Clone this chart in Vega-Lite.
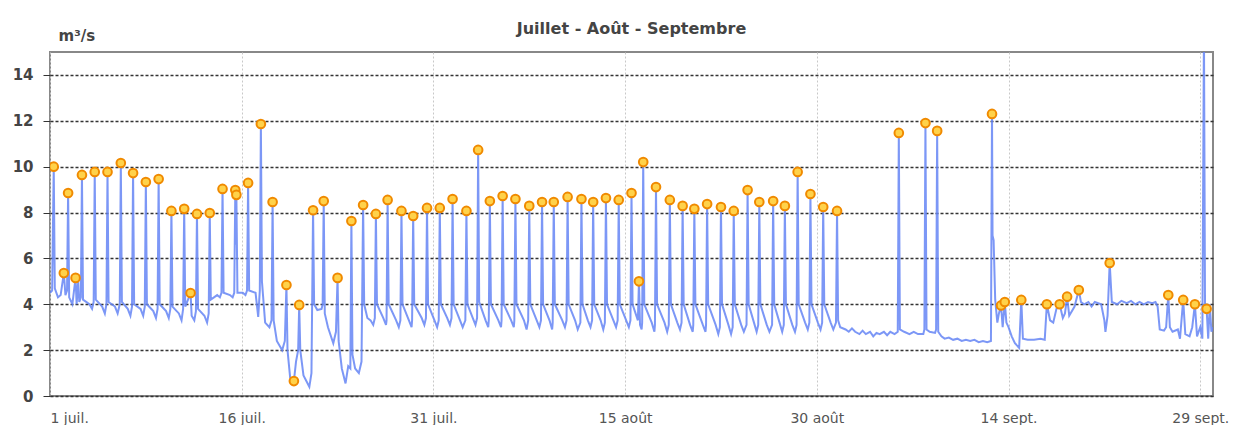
{
"$schema": "https://vega.github.io/schema/vega-lite/v6.json",
"width": 1163, "height": 344,
"autosize": {"type": "none"},
"padding": {"left": 50, "top": 52, "right": 26, "bottom": 29},
"background": "white",
"title": {"text": "Juillet - Août - Septembre", "font": "DejaVu Sans", "fontSize": 16, "fontWeight": "bold", "color": "#444", "anchor": "middle", "offset": -9},
"config": {"view": {"stroke": "#888", "strokeWidth": 2}, "font": "DejaVu Sans"},
"data": {"values": [
{"t":"2023-07-01T00:00","q":4.5},{"t":"2023-07-01T04:00","q":4.6},{"t":"2023-07-01T07:00","q":10.0,"m":1},{"t":"2023-07-01T09:00","q":4.7},{"t":"2023-07-01T15:00","q":4.3},{"t":"2023-07-01T20:00","q":4.4},
{"t":"2023-07-02T02:00","q":5.36,"m":1},{"t":"2023-07-02T05:00","q":4.4},{"t":"2023-07-02T08:00","q":4.6},{"t":"2023-07-02T10:00","q":8.85,"m":1},{"t":"2023-07-02T12:00","q":4.3},{"t":"2023-07-02T18:00","q":4.0},
{"t":"2023-07-03T00:00","q":5.15,"m":1},{"t":"2023-07-03T02:00","q":4.0},{"t":"2023-07-03T05:00","q":5.0},{"t":"2023-07-03T07:00","q":4.1},{"t":"2023-07-03T10:00","q":4.3},{"t":"2023-07-03T12:00","q":9.64,"m":1},{"t":"2023-07-03T14:00","q":4.2},
{"t":"2023-07-04T02:00","q":4.0},{"t":"2023-07-04T07:00","q":3.8},{"t":"2023-07-04T10:00","q":4.1},{"t":"2023-07-04T12:00","q":9.77,"m":1},{"t":"2023-07-04T14:00","q":4.2},
{"t":"2023-07-05T02:00","q":3.9},{"t":"2023-07-05T07:00","q":3.6},{"t":"2023-07-05T10:00","q":4.0},{"t":"2023-07-05T12:00","q":9.77,"m":1},{"t":"2023-07-05T14:00","q":4.1},
{"t":"2023-07-06T02:00","q":3.9},{"t":"2023-07-06T07:00","q":3.6},{"t":"2023-07-06T11:00","q":4.0},{"t":"2023-07-06T13:00","q":10.16,"m":1},{"t":"2023-07-06T15:00","q":4.1},
{"t":"2023-07-07T02:00","q":3.8},{"t":"2023-07-07T07:00","q":3.5},{"t":"2023-07-07T10:00","q":3.9},{"t":"2023-07-07T12:00","q":9.72,"m":1},{"t":"2023-07-07T14:00","q":4.0},
{"t":"2023-07-08T02:00","q":3.8},{"t":"2023-07-08T07:00","q":3.5},{"t":"2023-07-08T10:00","q":3.9},{"t":"2023-07-08T12:00","q":9.33,"m":1},{"t":"2023-07-08T14:00","q":4.0},
{"t":"2023-07-09T02:00","q":3.7},{"t":"2023-07-09T07:00","q":3.4},{"t":"2023-07-09T10:00","q":3.8},{"t":"2023-07-09T12:00","q":9.46,"m":1},{"t":"2023-07-09T14:00","q":4.0},
{"t":"2023-07-10T02:00","q":3.7},{"t":"2023-07-10T07:00","q":3.4},{"t":"2023-07-10T10:00","q":3.8},{"t":"2023-07-10T12:00","q":8.07,"m":1},{"t":"2023-07-10T14:00","q":3.9},
{"t":"2023-07-11T02:00","q":3.6},{"t":"2023-07-11T07:00","q":3.3},{"t":"2023-07-11T10:00","q":3.8},{"t":"2023-07-11T12:00","q":8.16,"m":1},{"t":"2023-07-11T14:00","q":3.9},
{"t":"2023-07-12T00:00","q":4.49,"m":1},{"t":"2023-07-12T02:00","q":3.5},{"t":"2023-07-12T07:00","q":3.3},{"t":"2023-07-12T10:00","q":3.7},{"t":"2023-07-12T12:00","q":7.94,"m":1},{"t":"2023-07-12T14:00","q":3.8},
{"t":"2023-07-13T02:00","q":3.5},{"t":"2023-07-13T07:00","q":3.2},{"t":"2023-07-13T10:00","q":3.6},{"t":"2023-07-13T12:00","q":7.98,"m":1},{"t":"2023-07-13T14:00","q":4.2},
{"t":"2023-07-14T02:00","q":4.4},{"t":"2023-07-14T07:00","q":4.3},{"t":"2023-07-14T10:00","q":4.5},{"t":"2023-07-14T12:00","q":9.03,"m":1},{"t":"2023-07-14T14:00","q":4.5},
{"t":"2023-07-15T02:00","q":4.4},{"t":"2023-07-15T07:00","q":4.3},{"t":"2023-07-15T10:00","q":4.5},{"t":"2023-07-15T12:00","q":8.98,"m":1},{"t":"2023-07-15T13:00","q":6.6},{"t":"2023-07-15T14:00","q":8.77,"m":1},{"t":"2023-07-15T16:00","q":4.5},
{"t":"2023-07-16T02:00","q":4.5},{"t":"2023-07-16T07:00","q":4.4},{"t":"2023-07-16T10:00","q":4.6},{"t":"2023-07-16T12:00","q":9.29,"m":1},{"t":"2023-07-16T14:00","q":4.6},
{"t":"2023-07-17T02:00","q":4.5},{"t":"2023-07-17T07:00","q":3.45},{"t":"2023-07-17T10:00","q":4.6},{"t":"2023-07-17T12:00","q":11.86,"m":1},{"t":"2023-07-17T14:00","q":5.0},{"t":"2023-07-17T20:00","q":3.2},
{"t":"2023-07-18T04:00","q":3.0},{"t":"2023-07-18T08:00","q":3.3},{"t":"2023-07-18T10:00","q":8.46,"m":1},{"t":"2023-07-18T12:00","q":3.3},{"t":"2023-07-18T18:00","q":2.4},
{"t":"2023-07-19T04:00","q":2.0},{"t":"2023-07-19T09:00","q":2.4},{"t":"2023-07-19T12:00","q":4.84,"m":1},{"t":"2023-07-19T14:00","q":2.0},{"t":"2023-07-19T19:00","q":0.8},
{"t":"2023-07-20T02:00","q":0.65,"m":1},{"t":"2023-07-20T06:00","q":1.5},{"t":"2023-07-20T10:00","q":2.0},{"t":"2023-07-20T12:00","q":3.97,"m":1},{"t":"2023-07-20T14:00","q":2.0},{"t":"2023-07-20T20:00","q":0.9},
{"t":"2023-07-21T07:00","q":0.4},{"t":"2023-07-21T11:00","q":1.0},{"t":"2023-07-21T14:00","q":8.1,"m":1},{"t":"2023-07-21T16:00","q":4.0},{"t":"2023-07-21T22:00","q":3.75},
{"t":"2023-07-22T06:00","q":3.8},{"t":"2023-07-22T08:00","q":4.0},{"t":"2023-07-22T10:00","q":8.5,"m":1},{"t":"2023-07-22T12:00","q":3.6},{"t":"2023-07-22T18:00","q":3.0},
{"t":"2023-07-23T04:00","q":2.3},{"t":"2023-07-23T09:00","q":2.8},{"t":"2023-07-23T12:00","q":5.15,"m":1},{"t":"2023-07-23T14:00","q":2.4},{"t":"2023-07-23T20:00","q":1.2},
{"t":"2023-07-24T03:00","q":0.55},{"t":"2023-07-24T08:00","q":1.3},{"t":"2023-07-24T12:00","q":1.2},{"t":"2023-07-24T14:00","q":7.63,"m":1},{"t":"2023-07-24T16:00","q":1.8},{"t":"2023-07-24T21:00","q":1.2},
{"t":"2023-07-25T04:00","q":1.0},{"t":"2023-07-25T09:00","q":1.5},{"t":"2023-07-25T12:00","q":8.33,"m":1},{"t":"2023-07-25T14:00","q":4.0},{"t":"2023-07-25T20:00","q":3.4},
{"t":"2023-07-26T02:00","q":3.3},{"t":"2023-07-26T07:00","q":3.1},{"t":"2023-07-26T10:00","q":3.4},{"t":"2023-07-26T12:00","q":7.94,"m":1},{"t":"2023-07-26T14:00","q":4.0},
{"t":"2023-07-27T02:00","q":3.4},{"t":"2023-07-27T07:00","q":3.1},{"t":"2023-07-27T08:00","q":3.3},{"t":"2023-07-27T10:00","q":8.55,"m":1},{"t":"2023-07-27T12:00","q":4.0},
{"t":"2023-07-28T02:00","q":3.3},{"t":"2023-07-28T07:00","q":3.0},{"t":"2023-07-28T10:00","q":3.3},{"t":"2023-07-28T12:00","q":8.07,"m":1},{"t":"2023-07-28T14:00","q":4.0},
{"t":"2023-07-29T02:00","q":3.3},{"t":"2023-07-29T07:00","q":3.0},{"t":"2023-07-29T08:00","q":3.3},{"t":"2023-07-29T10:00","q":7.85,"m":1},{"t":"2023-07-29T12:00","q":4.0},
{"t":"2023-07-30T02:00","q":3.4},{"t":"2023-07-30T07:00","q":3.1},{"t":"2023-07-30T10:00","q":3.4},{"t":"2023-07-30T12:00","q":8.2,"m":1},{"t":"2023-07-30T14:00","q":4.0},
{"t":"2023-07-31T02:00","q":3.3},{"t":"2023-07-31T07:00","q":3.0},{"t":"2023-07-31T10:00","q":3.3},{"t":"2023-07-31T12:00","q":8.2,"m":1},{"t":"2023-07-31T14:00","q":4.0},
{"t":"2023-08-01T02:00","q":3.4},{"t":"2023-08-01T07:00","q":3.1},{"t":"2023-08-01T10:00","q":3.4},{"t":"2023-08-01T12:00","q":8.59,"m":1},{"t":"2023-08-01T14:00","q":4.0},
{"t":"2023-08-02T02:00","q":3.3},{"t":"2023-08-02T07:00","q":3.0},{"t":"2023-08-02T12:00","q":3.3},{"t":"2023-08-02T14:00","q":8.07,"m":1},{"t":"2023-08-02T16:00","q":4.0},
{"t":"2023-08-03T02:00","q":3.4},{"t":"2023-08-03T07:00","q":3.1},{"t":"2023-08-03T10:00","q":3.4},{"t":"2023-08-03T12:00","q":10.73,"m":1},{"t":"2023-08-03T14:00","q":4.1},
{"t":"2023-08-04T02:00","q":3.3},{"t":"2023-08-04T07:00","q":3.0},{"t":"2023-08-04T08:00","q":3.3},{"t":"2023-08-04T10:00","q":8.5,"m":1},{"t":"2023-08-04T12:00","q":4.0},
{"t":"2023-08-05T02:00","q":3.3},{"t":"2023-08-05T07:00","q":3.0},{"t":"2023-08-05T08:00","q":3.3},{"t":"2023-08-05T10:00","q":8.72,"m":1},{"t":"2023-08-05T12:00","q":4.0},
{"t":"2023-08-06T02:00","q":3.3},{"t":"2023-08-06T07:00","q":3.0},{"t":"2023-08-06T08:00","q":3.3},{"t":"2023-08-06T10:00","q":8.59,"m":1},{"t":"2023-08-06T12:00","q":4.0},
{"t":"2023-08-07T02:00","q":3.3},{"t":"2023-08-07T07:00","q":2.9},{"t":"2023-08-07T10:00","q":3.3},{"t":"2023-08-07T12:00","q":8.29,"m":1},{"t":"2023-08-07T14:00","q":4.0},
{"t":"2023-08-08T02:00","q":3.3},{"t":"2023-08-08T07:00","q":3.0},{"t":"2023-08-08T10:00","q":3.3},{"t":"2023-08-08T12:00","q":8.46,"m":1},{"t":"2023-08-08T14:00","q":4.0},
{"t":"2023-08-09T02:00","q":3.3},{"t":"2023-08-09T07:00","q":2.9},{"t":"2023-08-09T08:00","q":3.2},{"t":"2023-08-09T10:00","q":8.46,"m":1},{"t":"2023-08-09T12:00","q":4.0},
{"t":"2023-08-10T02:00","q":3.3},{"t":"2023-08-10T07:00","q":3.0},{"t":"2023-08-10T10:00","q":3.3},{"t":"2023-08-10T12:00","q":8.68,"m":1},{"t":"2023-08-10T14:00","q":4.0},
{"t":"2023-08-11T02:00","q":3.3},{"t":"2023-08-11T07:00","q":2.9},{"t":"2023-08-11T12:00","q":3.2},{"t":"2023-08-11T14:00","q":8.59,"m":1},{"t":"2023-08-11T16:00","q":4.0},
{"t":"2023-08-12T02:00","q":3.3},{"t":"2023-08-12T07:00","q":3.0},{"t":"2023-08-12T10:00","q":3.3},{"t":"2023-08-12T12:00","q":8.46,"m":1},{"t":"2023-08-12T14:00","q":4.0},
{"t":"2023-08-13T02:00","q":3.3},{"t":"2023-08-13T07:00","q":2.9},{"t":"2023-08-13T10:00","q":3.2},{"t":"2023-08-13T12:00","q":8.63,"m":1},{"t":"2023-08-13T14:00","q":4.0},
{"t":"2023-08-14T02:00","q":3.3},{"t":"2023-08-14T07:00","q":3.0},{"t":"2023-08-14T10:00","q":3.3},{"t":"2023-08-14T12:00","q":8.55,"m":1},{"t":"2023-08-14T14:00","q":4.0},
{"t":"2023-08-15T02:00","q":3.3},{"t":"2023-08-15T07:00","q":3.0},{"t":"2023-08-15T10:00","q":3.3},{"t":"2023-08-15T12:00","q":8.85,"m":1},{"t":"2023-08-15T14:00","q":4.0},
{"t":"2023-08-16T00:00","q":3.3},{"t":"2023-08-16T02:00","q":5.0,"m":1},{"t":"2023-08-16T04:00","q":3.1},{"t":"2023-08-16T07:00","q":2.9},{"t":"2023-08-16T08:00","q":3.2},{"t":"2023-08-16T10:00","q":10.2,"m":1},{"t":"2023-08-16T12:00","q":4.0},
{"t":"2023-08-17T02:00","q":3.2},{"t":"2023-08-17T07:00","q":2.8},{"t":"2023-08-17T08:00","q":3.1},{"t":"2023-08-17T10:00","q":9.11,"m":1},{"t":"2023-08-17T12:00","q":4.0},
{"t":"2023-08-18T02:00","q":3.2},{"t":"2023-08-18T07:00","q":2.8},{"t":"2023-08-18T10:00","q":3.1},{"t":"2023-08-18T12:00","q":8.55,"m":1},{"t":"2023-08-18T14:00","q":4.0},
{"t":"2023-08-19T02:00","q":3.2},{"t":"2023-08-19T07:00","q":2.9},{"t":"2023-08-19T10:00","q":3.2},{"t":"2023-08-19T12:00","q":8.29,"m":1},{"t":"2023-08-19T14:00","q":4.0},
{"t":"2023-08-20T02:00","q":3.1},{"t":"2023-08-20T07:00","q":2.8},{"t":"2023-08-20T08:00","q":3.1},{"t":"2023-08-20T10:00","q":8.16,"m":1},{"t":"2023-08-20T12:00","q":4.0},
{"t":"2023-08-21T02:00","q":3.1},{"t":"2023-08-21T07:00","q":2.8},{"t":"2023-08-21T08:00","q":3.1},{"t":"2023-08-21T10:00","q":8.37,"m":1},{"t":"2023-08-21T12:00","q":4.0},
{"t":"2023-08-22T02:00","q":3.1},{"t":"2023-08-22T07:00","q":2.7},{"t":"2023-08-22T10:00","q":3.0},{"t":"2023-08-22T12:00","q":8.24,"m":1},{"t":"2023-08-22T14:00","q":4.0},
{"t":"2023-08-23T02:00","q":3.1},{"t":"2023-08-23T07:00","q":2.7},{"t":"2023-08-23T10:00","q":3.0},{"t":"2023-08-23T12:00","q":8.07,"m":1},{"t":"2023-08-23T14:00","q":4.0},
{"t":"2023-08-24T02:00","q":3.1},{"t":"2023-08-24T07:00","q":2.8},{"t":"2023-08-24T12:00","q":3.1},{"t":"2023-08-24T14:00","q":8.98,"m":1},{"t":"2023-08-24T16:00","q":4.0},
{"t":"2023-08-25T02:00","q":3.2},{"t":"2023-08-25T07:00","q":2.8},{"t":"2023-08-25T10:00","q":3.1},{"t":"2023-08-25T12:00","q":8.46,"m":1},{"t":"2023-08-25T14:00","q":4.0},
{"t":"2023-08-26T02:00","q":3.1},{"t":"2023-08-26T07:00","q":2.8},{"t":"2023-08-26T12:00","q":3.1},{"t":"2023-08-26T14:00","q":8.5,"m":1},{"t":"2023-08-26T16:00","q":4.0},
{"t":"2023-08-27T02:00","q":3.2},{"t":"2023-08-27T07:00","q":2.8},{"t":"2023-08-27T10:00","q":3.1},{"t":"2023-08-27T12:00","q":8.29,"m":1},{"t":"2023-08-27T14:00","q":4.0},
{"t":"2023-08-28T02:00","q":3.1},{"t":"2023-08-28T07:00","q":2.8},{"t":"2023-08-28T10:00","q":3.1},{"t":"2023-08-28T12:00","q":9.77,"m":1},{"t":"2023-08-28T14:00","q":4.0},
{"t":"2023-08-29T02:00","q":3.2},{"t":"2023-08-29T07:00","q":2.9},{"t":"2023-08-29T10:00","q":3.2},{"t":"2023-08-29T12:00","q":8.81,"m":1},{"t":"2023-08-29T14:00","q":4.0},
{"t":"2023-08-30T02:00","q":3.2},{"t":"2023-08-30T07:00","q":2.9},{"t":"2023-08-30T10:00","q":3.2},{"t":"2023-08-30T12:00","q":8.24,"m":1},{"t":"2023-08-30T14:00","q":4.0},
{"t":"2023-08-31T02:00","q":3.2},{"t":"2023-08-31T07:00","q":2.9},{"t":"2023-08-31T12:00","q":3.2},{"t":"2023-08-31T14:00","q":8.07,"m":1},{"t":"2023-08-31T16:00","q":3.3},{"t":"2023-08-31T20:00","q":3.0},
{"t":"2023-09-01T06:00","q":2.9},{"t":"2023-09-01T12:00","q":2.8},{"t":"2023-09-01T18:00","q":2.95},
{"t":"2023-09-02T00:00","q":2.8},{"t":"2023-09-02T08:00","q":2.7},{"t":"2023-09-02T14:00","q":2.85},{"t":"2023-09-02T20:00","q":2.7},
{"t":"2023-09-03T04:00","q":2.8},{"t":"2023-09-03T10:00","q":2.6},{"t":"2023-09-03T16:00","q":2.75},{"t":"2023-09-03T22:00","q":2.7},
{"t":"2023-09-04T06:00","q":2.8},{"t":"2023-09-04T12:00","q":2.65},{"t":"2023-09-04T18:00","q":2.8},
{"t":"2023-09-05T02:00","q":2.7},{"t":"2023-09-05T08:00","q":2.8},{"t":"2023-09-05T10:00","q":11.47,"m":1},{"t":"2023-09-05T12:00","q":2.9},{"t":"2023-09-05T20:00","q":2.8},
{"t":"2023-09-06T06:00","q":2.7},{"t":"2023-09-06T14:00","q":2.8},{"t":"2023-09-06T22:00","q":2.7},
{"t":"2023-09-07T08:00","q":2.7},{"t":"2023-09-07T10:00","q":2.9},{"t":"2023-09-07T12:00","q":11.9,"m":1},{"t":"2023-09-07T14:00","q":2.9},{"t":"2023-09-07T20:00","q":2.8},
{"t":"2023-09-08T06:00","q":2.75},{"t":"2023-09-08T08:00","q":2.9},{"t":"2023-09-08T10:00","q":11.56,"m":1},{"t":"2023-09-08T12:00","q":2.8},{"t":"2023-09-08T18:00","q":2.6},
{"t":"2023-09-09T00:00","q":2.5},{"t":"2023-09-09T08:00","q":2.55},{"t":"2023-09-09T16:00","q":2.45},
{"t":"2023-09-10T00:00","q":2.5},{"t":"2023-09-10T08:00","q":2.4},{"t":"2023-09-10T16:00","q":2.45},
{"t":"2023-09-11T00:00","q":2.4},{"t":"2023-09-11T08:00","q":2.45},{"t":"2023-09-11T16:00","q":2.35},
{"t":"2023-09-12T00:00","q":2.4},{"t":"2023-09-12T08:00","q":2.35},{"t":"2023-09-12T15:00","q":2.4},{"t":"2023-09-12T17:00","q":12.3,"m":1},{"t":"2023-09-12T18:00","q":7.0},{"t":"2023-09-12T20:00","q":6.8},{"t":"2023-09-12T23:00","q":4.2},
{"t":"2023-09-13T03:00","q":3.2},{"t":"2023-09-13T06:00","q":3.6},{"t":"2023-09-13T10:00","q":3.95,"m":1},{"t":"2023-09-13T13:00","q":3.0},{"t":"2023-09-13T17:00","q":4.1,"m":1},{"t":"2023-09-13T20:00","q":3.2},
{"t":"2023-09-14T00:00","q":3.0},{"t":"2023-09-14T06:00","q":2.6},{"t":"2023-09-14T12:00","q":2.3},{"t":"2023-09-14T20:00","q":2.1},
{"t":"2023-09-15T00:00","q":4.19,"m":1},{"t":"2023-09-15T03:00","q":2.5},{"t":"2023-09-15T12:00","q":2.45},
{"t":"2023-09-16T00:00","q":2.45},{"t":"2023-09-16T12:00","q":2.5},{"t":"2023-09-16T20:00","q":2.45},
{"t":"2023-09-17T00:00","q":4.0,"m":1},{"t":"2023-09-17T06:00","q":3.3},{"t":"2023-09-17T12:00","q":3.2},{"t":"2023-09-17T18:00","q":3.8},
{"t":"2023-09-18T00:00","q":4.0,"m":1},{"t":"2023-09-18T06:00","q":3.4},{"t":"2023-09-18T10:00","q":3.6},{"t":"2023-09-18T14:00","q":4.33,"m":1},{"t":"2023-09-18T18:00","q":3.5},
{"t":"2023-09-19T04:00","q":3.9},{"t":"2023-09-19T12:00","q":4.62,"m":1},{"t":"2023-09-19T16:00","q":4.1},{"t":"2023-09-19T22:00","q":4.0},
{"t":"2023-09-20T06:00","q":4.1},{"t":"2023-09-20T12:00","q":3.9},{"t":"2023-09-20T18:00","q":4.1},
{"t":"2023-09-21T06:00","q":4.0},{"t":"2023-09-21T12:00","q":3.3},{"t":"2023-09-21T14:00","q":2.8},{"t":"2023-09-21T18:00","q":3.5},{"t":"2023-09-21T22:00","q":5.8,"m":1},
{"t":"2023-09-22T02:00","q":4.1},{"t":"2023-09-22T12:00","q":4.0},{"t":"2023-09-22T20:00","q":4.15},
{"t":"2023-09-23T06:00","q":4.05},{"t":"2023-09-23T14:00","q":4.15},{"t":"2023-09-23T22:00","q":4.0},
{"t":"2023-09-24T06:00","q":4.1},{"t":"2023-09-24T14:00","q":4.0},{"t":"2023-09-24T22:00","q":4.1},
{"t":"2023-09-25T06:00","q":4.05},{"t":"2023-09-25T12:00","q":4.1},{"t":"2023-09-25T16:00","q":3.9},{"t":"2023-09-25T20:00","q":2.9},
{"t":"2023-09-26T04:00","q":2.85},{"t":"2023-09-26T08:00","q":3.0},{"t":"2023-09-26T12:00","q":4.4,"m":1},{"t":"2023-09-26T15:00","q":3.0},{"t":"2023-09-26T20:00","q":2.8},
{"t":"2023-09-27T06:00","q":2.9},{"t":"2023-09-27T10:00","q":2.5},{"t":"2023-09-27T16:00","q":4.19,"m":1},{"t":"2023-09-27T20:00","q":2.7},
{"t":"2023-09-28T04:00","q":2.6},{"t":"2023-09-28T09:00","q":3.0},{"t":"2023-09-28T14:00","q":4.0,"m":1},{"t":"2023-09-28T18:00","q":2.6},
{"t":"2023-09-29T00:00","q":3.0},{"t":"2023-09-29T04:00","q":2.5},{"t":"2023-09-29T07:00","q":16.0},{"t":"2023-09-29T09:00","q":4.0},{"t":"2023-09-29T12:00","q":3.8,"m":1},{"t":"2023-09-29T15:00","q":2.5},{"t":"2023-09-29T18:00","q":4.0},{"t":"2023-09-29T21:00","q":2.8},
{"t":"2023-09-30T00:00","q":3.0}
]},
"layer": [
{"mark": {"type": "line", "color": "#6585f4", "strokeWidth": 2, "opacity": 0.85, "clip": true},
 "encoding": {
  "x": {"field": "t", "type": "temporal",
   "scale": {"domain": [{"year": 2023, "month": 7, "date": 1}, {"year": 2023, "month": 9, "date": 30}]},
   "axis": {"title": null, "values": [{"year": 2023, "month": 7, "date": 1}, {"year": 2023, "month": 7, "date": 16}, {"year": 2023, "month": 7, "date": 31}, {"year": 2023, "month": 8, "date": 15}, {"year": 2023, "month": 8, "date": 30}, {"year": 2023, "month": 9, "date": 14}, {"year": 2023, "month": 9, "date": 29}],
    "labelExpr": "date(datum.value) + ' ' + ['janv.','févr.','mars','avr.','mai','juin','juil.','août','sept.','oct.','nov.','déc.'][month(datum.value)]",
    "grid": true, "gridColor": "#c8c8c8", "gridDash": [2, 2], "ticks": false, "domain": false,
    "labelFontSize": 14, "labelColor": "#555", "labelPadding": 15, "labelOverlap": false, "labelFont": "DejaVu Sans"}},
  "y": {"field": "q", "type": "quantitative",
   "scale": {"domain": [0, 15], "nice": false},
   "axis": {"values": [0, 2, 4, 6, 8, 10, 12, 14], "title": "m³/s", "titleAngle": 0, "titleAlign": "left", "titleBaseline": "alphabetic", "titleX": 8, "titleY": -12, "titleFontSize": 15, "titleFontWeight": "bold", "titleColor": "#444",
    "grid": true, "gridColor": "#333", "gridDash": [3, 2], "gridWidth": 1.3, "domain": false, "tickColor": "#333", "tickSize": 7,
    "labelFontSize": 15, "labelFontWeight": "bold", "labelColor": "#444", "labelPadding": 10, "labelFont": "DejaVu Sans"}}
 }},
{"transform": [{"filter": "datum.m == 1"}],
 "mark": {"type": "point", "shape": "circle", "filled": true, "fill": "#ffd24a", "stroke": "#f08a00", "strokeWidth": 2, "size": 75, "opacity": 1, "clip": true},
 "encoding": {"x": {"field": "t", "type": "temporal"}, "y": {"field": "q", "type": "quantitative"}}}
]
}
